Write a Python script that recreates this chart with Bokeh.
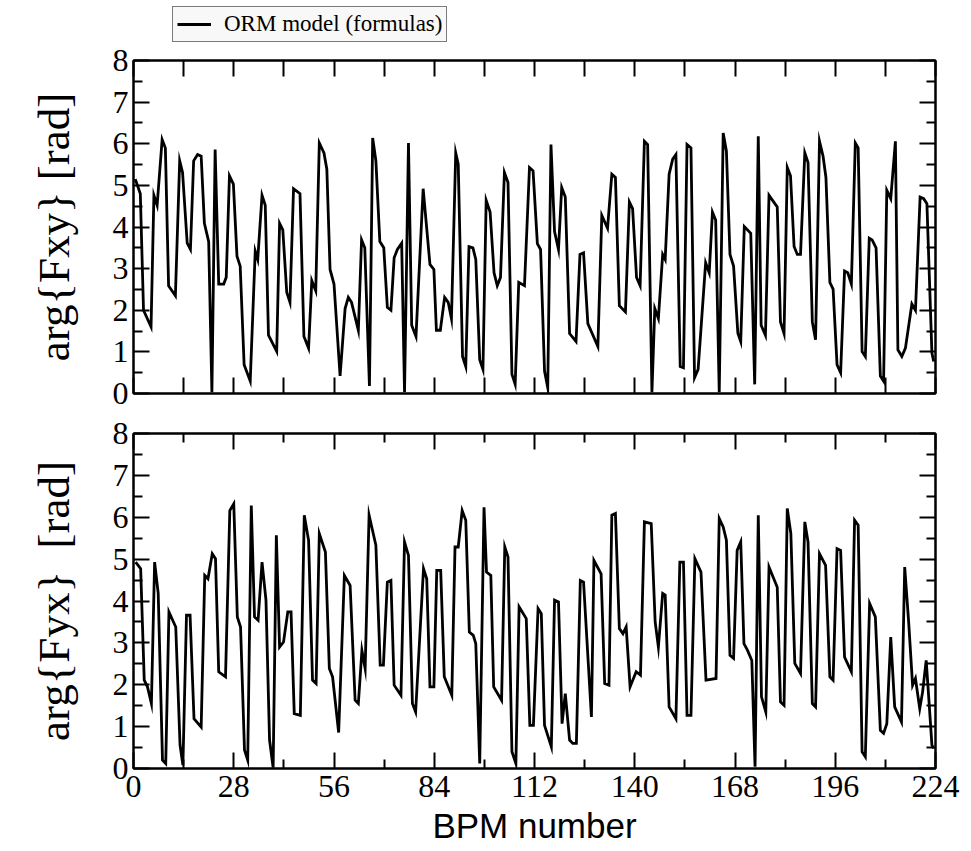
from bokeh.plotting import figure
from bokeh.layouts import column
from bokeh.models import (Range1d, FixedTicker, LinearAxis, CustomJSTickFormatter,
                          Legend, LegendItem)
from bokeh.embed import file_html
from bokeh.resources import INLINE

# ---------------- data ----------------
fxy_bpm = [0.5, 1.9, 2.8, 4.9, 5.7, 6.6, 8.0, 8.9, 9.8, 11.7, 12.9, 13.7, 15.0, 15.9, 16.8, 17.9,
           18.9, 19.8, 21.0, 21.9, 22.8, 23.8, 25.2, 25.9, 26.8, 27.9, 28.9, 29.8, 30.9, 32.6, 34.0,
           34.7, 35.9, 36.8, 37.7, 40.0, 40.8, 41.7, 42.8, 43.7, 44.7, 46.5, 47.6, 48.9, 49.8, 50.9,
           51.9, 53.2, 54.0, 54.9, 56.0, 57.7, 59.1, 60.0, 60.9, 62.8, 63.7, 64.6, 65.9, 66.8, 67.7,
           68.8, 69.9, 70.9, 71.9, 72.8, 73.7, 74.9, 75.7, 76.8, 77.7, 78.9, 80.9, 82.8, 83.9, 84.6,
           85.7, 86.9, 87.9, 88.8, 90.0, 90.7, 91.9, 92.8, 93.7, 94.8, 95.6, 96.7, 97.6, 98.5, 99.6,
           100.7, 101.6, 102.5, 103.6, 104.6, 105.7, 106.6, 107.6, 109.2, 110.6, 111.6, 112.8, 113.7,
           114.8, 115.7, 116.6, 117.6, 118.7, 119.6, 120.6, 121.8, 123.6, 124.7, 125.7, 126.9, 129.7,
           130.8, 132.4, 133.6, 134.6, 135.7, 137.4, 138.5, 139.4, 140.5, 141.5, 142.7, 143.6, 144.8,
           145.6, 146.6, 147.8, 148.5, 149.6, 150.6, 151.5, 152.7, 153.6, 154.6, 155.7, 156.7, 157.7,
           159.8, 160.8, 161.7, 162.6, 163.6, 164.7, 165.6, 166.6, 167.6, 168.8, 169.6, 170.6, 172.4,
           173.5, 174.5, 175.3, 176.5, 177.5, 179.8, 180.7, 181.7, 182.6, 183.5, 184.5, 185.4, 186.3,
           187.5, 188.4, 189.6, 190.5, 191.6, 192.6, 193.4, 194.5, 195.4, 196.5, 197.5, 198.6, 199.5,
           200.5, 201.6, 202.4, 203.5, 204.4, 205.5, 206.3, 207.4, 208.6, 209.5, 210.4, 211.5, 212.8,
           213.5, 214.6, 215.6, 217.4, 218.4, 219.7, 220.7, 221.6, 223.0, 223.5]
fxy_arg = [5.15, 4.8, 2.0, 1.6, 4.76, 4.52, 6.1, 5.9, 2.59, 2.35, 5.59, 5.31, 3.61, 3.46, 5.59, 5.74,
           5.70, 4.09, 3.65, 0.03, 5.86, 2.63, 2.63, 2.79, 5.23, 5.03, 3.30, 3.06, 0.69, 0.30, 3.42,
           3.22, 4.76, 4.52, 1.40, 1.01, 4.09, 3.93, 2.43, 2.19, 4.92, 4.80, 1.37, 1.09, 2.71, 2.47,
           6.02, 5.78, 5.39, 2.98, 2.63, 0.42, 2.04, 2.31, 2.19, 1.52, 3.69, 3.50, 0.18, 6.14, 5.59,
           3.65, 3.50, 2.07, 2.00, 3.26, 3.46, 3.61, 0.03, 6.02, 1.64, 1.37, 4.92, 3.10, 2.98, 1.52,
           1.52, 2.31, 2.19, 1.80, 5.78, 5.51, 0.89, 0.65, 3.53, 3.50, 3.22, 0.81, 0.58, 4.64, 4.36,
           2.90, 2.59, 2.79, 5.31, 5.07, 0.46, 0.22, 2.67, 2.59, 5.43, 5.35, 3.60, 3.46,
           0.54, 0.14, 5.98, 3.89, 3.46, 4.95, 4.72, 1.44, 1.25, 3.34, 3.38, 1.68, 1.13,
           4.28, 3.97, 5.27, 5.19, 2.11, 1.96, 4.60, 4.44, 2.79, 2.59, 6.06, 5.98, 0.03,
           2.04, 1.80, 3.34, 3.22, 5.27, 5.63, 5.74, 0.65, 0.62, 5.98, 5.90, 0.38, 0.58,
           3.14, 2.90, 4.36, 4.17, 0.03, 6.26, 5.82, 3.34, 3.06, 1.45, 1.25, 4.01, 3.85,
           0.22, 6.18, 1.64, 1.40, 4.76, 4.48, 1.72, 1.44, 5.43, 5.23, 3.53, 3.34, 3.34,
           5.78, 5.55, 1.72, 1.29, 6.06, 5.70, 5.19, 2.67, 2.51, 0.69, 0.50, 2.94, 2.90,
           2.63, 6.02, 5.90, 1.01, 0.89, 3.73, 3.69, 3.50, 0.42, 0.30, 4.88, 4.68, 6.06,
           1.05, 0.89, 1.09, 2.15, 2.00, 4.72, 4.68, 4.56, 0.97, 0.77]

fyx_bpm = [0.6, 2.0, 3.0, 3.9, 5.0, 5.9, 6.9, 8.1, 9.0, 9.9, 11.8, 13.0, 13.8, 14.8, 15.8, 16.9, 18.9,
           19.9, 20.8, 22.0, 22.9, 23.8, 25.7, 26.9, 28.0, 29.0, 29.9, 31.0, 31.9, 32.9, 33.8, 34.8,
           35.9, 37.0, 38.0, 39.0, 39.9, 40.8, 41.9, 43.1, 44.0, 44.9, 46.6, 47.7, 48.9, 50.0, 51.0,
           51.9, 53.6, 54.7, 55.6, 57.3, 58.9, 60.5, 61.9, 62.8, 63.8, 64.7, 65.8, 67.7, 68.9, 69.8,
           70.9, 71.9, 72.8, 74.7, 75.7, 76.8, 77.9, 78.8, 81.0, 81.9, 82.8, 83.9, 84.7, 85.8, 86.8,
           88.9, 89.8, 90.7, 91.8, 92.8, 93.8, 94.9, 95.6, 96.7, 97.9, 98.6, 99.8, 100.6, 102.8,
           103.7, 104.6, 105.7, 106.8, 107.7, 109.7, 110.7, 111.7, 113.0, 113.9, 114.8, 116.7,
           117.6, 118.7, 119.7, 120.6, 121.8, 122.7, 123.7, 124.8, 125.7, 127.9, 128.6, 130.6,
           131.6, 132.8, 133.6, 134.6, 135.7, 136.7, 137.6, 138.7, 140.4, 141.6, 142.7, 144.6,
           145.7, 146.6, 147.8, 148.5, 149.6, 151.5, 152.6, 153.6, 154.6, 155.7, 156.8, 158.5,
           159.9, 162.7, 163.6, 164.7, 165.6, 166.6, 167.6, 168.6, 169.6, 170.5, 171.5, 172.7,
           173.6, 174.5, 175.4, 176.6, 177.5, 179.8, 180.7, 181.7, 182.6, 183.6, 184.7, 186.3,
           187.5, 188.4, 189.6, 190.5, 191.6, 193.3, 194.5, 195.4, 196.5, 197.5, 198.6, 200.5,
           201.4, 202.4, 203.5, 204.4, 205.6, 207.2, 208.6, 209.5, 210.4, 211.5, 212.6, 214.5,
           215.4, 216.5, 217.6, 218.4, 219.6, 220.4, 221.4, 222.1, 223.0, 223.5]
fyx_arg = [4.93, 4.77, 2.11, 1.95, 1.55, 4.93, 4.18, 0.20, 0.12, 3.74, 3.38, 0.56, 0.08, 3.66, 3.66,
           1.19, 0.99, 4.61, 4.53, 5.13, 5.01, 2.31, 2.19, 6.16, 6.32, 3.62, 3.38, 0.44, 0.20, 6.28,
           3.62, 3.54, 4.93, 4.02, 0.68, 0.02, 5.57, 2.90, 3.02, 3.74, 3.74, 1.31, 1.27, 6.05, 5.45,
           2.11, 2.03, 5.61, 5.17, 2.39, 2.19, 0.86, 4.61, 4.37, 1.63, 1.55, 2.82, 2.39, 6.05, 5.33,
           2.47, 2.47, 4.45, 4.49, 1.99, 1.75, 5.41, 5.09, 1.55, 1.35, 4.77, 4.53, 1.95, 1.95, 4.73,
           4.73, 2.19, 1.75, 5.29, 5.29, 6.16, 5.93, 3.26, 3.18, 2.98, 0.12, 6.24, 4.69, 4.61, 1.95,
           1.63, 5.29, 5.05, 0.40, 0.12, 3.86, 3.58, 1.03, 1.03, 3.82, 3.70, 1.03, 0.52, 4.02, 3.98,
           1.07, 1.79, 0.68, 0.60, 0.60, 4.49, 4.45, 1.23, 4.97, 4.65, 2.03, 1.99, 6.05, 6.09, 3.34,
           3.22, 3.38, 1.95, 2.31, 2.23, 5.89, 5.85, 3.50, 2.90, 4.18, 4.14, 1.47, 1.19, 4.93, 4.93,
           1.27, 1.27, 5.01, 4.69, 2.11, 2.15, 5.97, 5.77, 5.45, 2.70, 2.63, 5.21, 5.41, 2.98, 2.82,
           2.58, 0.04, 6.05, 1.71, 1.35, 4.81, 4.33, 1.59, 1.51, 6.21, 5.61, 2.51, 2.27, 5.89, 5.41,
           1.55, 1.47, 5.13, 4.85, 2.19, 2.11, 5.25, 5.21, 2.66, 2.31, 5.93, 5.81, 0.40, 0.28, 3.94,
           3.62, 0.91, 0.84, 1.07, 3.14, 1.47, 1.11, 4.81, 3.50, 1.99, 2.15, 1.43, 1.83, 2.58, 1.71,
           0.56, 0.48]

x_major_bottom = [0, 28, 56, 84, 112, 140, 168, 196, 224]
x_minor_bottom = [14, 42, 70, 98, 126, 154, 182, 210]
x_ticks_top_panel = list(range(0, 225, 14))
y_major = [0, 1, 2, 3, 4, 5, 6, 7, 8]
y_minor = [0.5, 1.5, 2.5, 3.5, 4.5, 5.5, 6.5, 7.5]

legend_text = "ORM model (formulas)"
ylabel_top = "arg{Fxy} [rad]"
ylabel_bottom = "arg{Fyx}\u00a0 [rad]"
xlabel = "BPM number"

SERIF = "Liberation Serif"
SANS = "Liberation Sans"


def style_axis(ax, ticker, labels=True):
    ax.ticker = ticker
    ax.major_tick_in = 16
    ax.major_tick_out = 0
    ax.minor_tick_in = 9
    ax.minor_tick_out = 0
    ax.major_tick_line_width = 2
    ax.minor_tick_line_width = 2
    ax.major_tick_line_color = "black"
    ax.minor_tick_line_color = "black"
    ax.axis_line_width = 2
    ax.axis_line_color = "black"
    ax.major_label_text_font = SERIF
    ax.major_label_text_color = "black"
    if labels:
        ax.major_label_text_font_size = "32px"
        ax.major_label_standoff = 5
    else:
        ax.formatter = CustomJSTickFormatter(code="return ''")
        ax.major_label_text_font_size = "1px"
        ax.major_label_standoff = 0


def make_panel(height, top, bottom, xs, ys, ylabel, bottom_panel):
    p = figure(width=971, height=height, output_backend="svg", toolbar_location=None,
               x_range=Range1d(0, 224), y_range=Range1d(0, 8),
               min_border_left=133, min_border_right=36,
               min_border_top=top, min_border_bottom=bottom,
               background_fill_color="white", border_fill_color="white")
    p.xgrid.visible = False
    p.ygrid.visible = False
    p.outline_line_color = "black"
    p.outline_line_width = 2
    p.outline_line_alpha = 1

    if bottom_panel:
        xt = FixedTicker(ticks=x_major_bottom, minor_ticks=x_minor_bottom)
    else:
        xt = FixedTicker(ticks=x_ticks_top_panel, minor_ticks=[])
    yt = FixedTicker(ticks=y_major, minor_ticks=y_minor)

    style_axis(p.xaxis[0], xt, labels=bottom_panel)
    style_axis(p.yaxis[0], yt, labels=True)
    p.yaxis[0].axis_label = ylabel
    p.yaxis[0].axis_label_text_font = SERIF
    p.yaxis[0].axis_label_text_font_style = "normal"
    p.yaxis[0].axis_label_text_font_size = "45px"
    p.yaxis[0].axis_label_text_color = "black"
    p.yaxis[0].axis_label_standoff = 31
    if bottom_panel:
        p.xaxis[0].major_label_standoff = 7
        p.xaxis[0].axis_label = xlabel
        p.xaxis[0].axis_label_text_font = SANS
        p.xaxis[0].axis_label_text_font_style = "normal"
        p.xaxis[0].axis_label_text_font_size = "35px"
        p.xaxis[0].axis_label_text_color = "black"
        p.xaxis[0].axis_label_standoff = 6

    ax_top = LinearAxis()
    style_axis(ax_top, xt, labels=False)
    p.add_layout(ax_top, "above")
    ax_right = LinearAxis()
    style_axis(ax_right, yt, labels=False)
    p.add_layout(ax_right, "right")

    r = p.line(xs, ys, line_color="black", line_width=2.8, line_join="miter")
    return p, r


# legend strip above the top panel (its line lies far outside the visible range)
p0 = figure(width=971, height=42, output_backend="svg", toolbar_location=None,
            x_range=Range1d(-3000, -2000), y_range=Range1d(-3000, -2000),
            x_axis_location=None, y_axis_location=None,
            min_border=0, min_border_left=0, min_border_right=0,
            min_border_top=0, min_border_bottom=0,
            background_fill_color="white", border_fill_color="white")
p0.xgrid.visible = False
p0.ygrid.visible = False
p0.outline_line_color = None
r0 = p0.line(fxy_bpm, fxy_arg, line_color="black", line_width=2.8)

legend = Legend(items=[LegendItem(label=legend_text, renderers=[r0])],
                location=(39, 0))
legend.label_text_font = SERIF
legend.label_text_font_size = "23px"
legend.label_text_color = "black"
legend.glyph_width = 34
legend.glyph_height = 22
legend.label_standoff = 13
legend.padding = 4
legend.margin = 0
legend.spacing = 0
legend.border_line_color = "black"
legend.border_line_width = 1
legend.background_fill_color = "#f8f8f8"
legend.background_fill_alpha = 1
p0.add_layout(legend)

p1, r1 = make_panel(371, 18, 20, fxy_bpm, fxy_arg, ylabel_top, False)
p2, r2 = make_panel(438, 20, 83, fyx_bpm, fyx_arg, ylabel_bottom, True)

layout = column(p0, p1, p2, spacing=0)

open("out.html", "w").write(file_html(layout, INLINE))
